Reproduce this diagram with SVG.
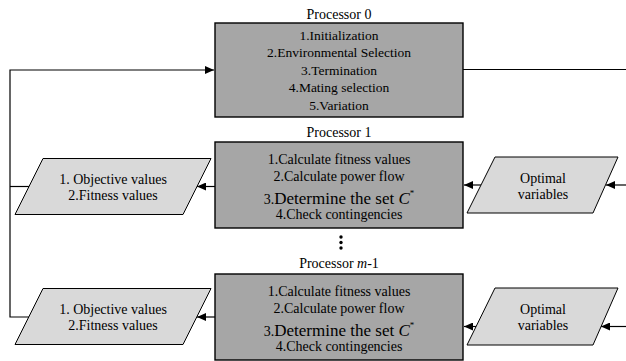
<svg xmlns="http://www.w3.org/2000/svg" width="626" height="361" viewBox="0 0 626 361" font-family="'Liberation Serif', 'Times New Roman', Tinos, 'DejaVu Serif', serif">
<style>
text{font-family:'Liberation Serif','Times New Roman',Tinos,'DejaVu Serif',serif;font-size:14px;fill:#000;text-anchor:middle}
.p0{font-size:13.5px}
.box{fill:#a6a6a6;stroke:#000;stroke-width:1.4}
.para{fill:#d9d9d9;stroke:#000;stroke-width:1}
.big{font-size:17px}
.it{font-style:italic}
.con{fill:none;stroke:#000;stroke-width:1.2}
</style>
<defs>
<marker id="arr" markerUnits="userSpaceOnUse" markerWidth="10" markerHeight="8" refX="9" refY="4" orient="auto">
<path d="M0,0 L9,4 L0,8 z" fill="#000"/>
</marker>
</defs>
<rect width="626" height="361" fill="#fff"/>
<g id="connectors">
<path class="con" d="M29,317 H10 V70 H214" marker-end="url(#arr)"/>
<path class="con" d="M29,186.5 H10"/>
<path class="con" d="M463,69.5 H626"/>
<path class="con" d="M626,185 H606" marker-end="url(#arr)"/>
<path class="con" d="M481,185 H464" marker-end="url(#arr)"/>
<path class="con" d="M215,186.5 H197" marker-end="url(#arr)"/>
<path class="con" d="M626,326.5 H601" marker-end="url(#arr)"/>
<path class="con" d="M476,326.5 H464" marker-end="url(#arr)"/>
<path class="con" d="M215,317 H197" marker-end="url(#arr)"/>
</g>
<g id="processor0">
<text x="339" y="18.5">Processor 0</text>
<rect class="box" x="215" y="23" width="248" height="94"/>
<text class="p0" x="339" y="39.5">1.Initialization</text>
<text class="p0" x="339" y="57">2.Environmental Selection</text>
<text class="p0" x="339" y="74.5">3.Termination</text>
<text class="p0" x="339" y="92">4.Mating selection</text>
<text class="p0" x="339" y="109.5">5.Variation</text>
</g>
<g id="processor1">
<text x="339" y="137">Processor 1</text>
<rect class="box" x="215" y="142" width="248" height="86"/>
<text x="339" y="164">1.Calculate fitness values</text>
<text x="339" y="181">2.Calculate power flow</text>
<text x="339" y="204">3.<tspan class="big">Determine the set </tspan><tspan class="big it">C</tspan><tspan font-size="9" dy="-8">*</tspan></text>
<text x="339" y="219">4.Check contingencies</text>
</g>
<g id="out1">
<polygon class="para" points="43,158.5 211,158.5 183,214.5 15,214.5"/>
<text x="113" y="184">1. Objective values</text>
<text x="113" y="199.5">2.Fitness values</text>
</g>
<g id="in1">
<polygon class="para" points="495,157 618,157 593,213 467,213"/>
<text x="543" y="183">Optimal</text>
<text x="543" y="199">variables</text>
</g>
<g id="dots">
<circle cx="341" cy="237" r="1.7" fill="#000"/>
<circle cx="341" cy="242.5" r="1.7" fill="#000"/>
<circle cx="341" cy="248" r="1.7" fill="#000"/>
</g>
<g id="processorm1">
<text x="339" y="268">Processor <tspan class="it">m</tspan>-1</text>
<rect class="box" x="215" y="274" width="248" height="86"/>
<text x="339" y="296">1.Calculate fitness values</text>
<text x="339" y="313">2.Calculate power flow</text>
<text x="339" y="336">3.<tspan class="big">Determine the set </tspan><tspan class="big it">C</tspan><tspan font-size="9" dy="-8">*</tspan></text>
<text x="339" y="351">4.Check contingencies</text>
</g>
<g id="out2">
<polygon class="para" points="43,288.5 211,288.5 183,344.5 15,344.5"/>
<text x="113" y="314">1. Objective values</text>
<text x="113" y="329.5">2.Fitness values</text>
</g>
<g id="in2">
<polygon class="para" points="495,288 618,288 593,345 467,345"/>
<text x="543" y="314">Optimal</text>
<text x="543" y="330">variables</text>
</g>
</svg>
